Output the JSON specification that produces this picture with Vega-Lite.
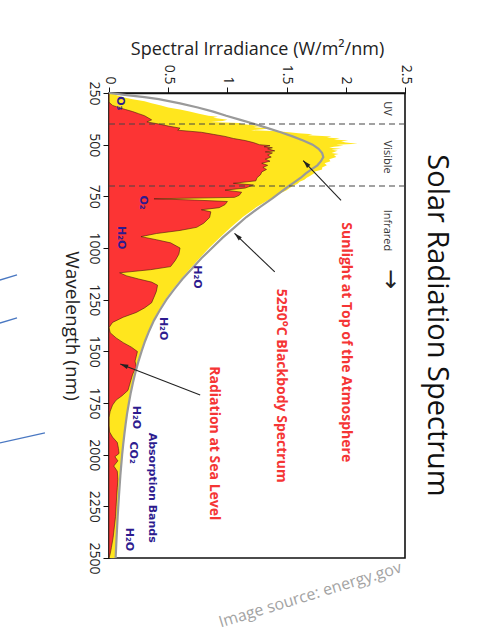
{
  "$schema": "https://vega.github.io/schema/vega-lite/v6.json",
  "width": 296,
  "height": 465,
  "autosize": {"type": "none"},
  "padding": {"left": 109, "top": 93, "right": 90, "bottom": 84},
  "background": "white",
  "config": {"view": {"stroke": "#111", "strokeWidth": 1.6}, "font": "Open Sans"},
  "title": {"text": "Solar Radiation Spectrum", "orient": "right", "anchor": "middle", "fontSize": 29, "font": "Open Sans", "fontWeight": "normal", "color": "#111", "offset": 10},
  "datasets": {
    "toa": [
      {"wl":250,"e":0.02},{"wl":260,"e":0.06},{"wl":270,"e":0.12},{"wl":280,"e":0.2},{"wl":290,"e":0.3},{"wl":300,"e":0.36},{"wl":310,"e":0.44},{"wl":320,"e":0.5},{"wl":330,"e":0.6},{"wl":340,"e":0.68},{"wl":350,"e":0.76},{"wl":360,"e":0.84},{"wl":365,"e":0.92},{"wl":370,"e":0.88},{"wl":380,"e":1.0},{"wl":385,"e":0.96},{"wl":390,"e":0.86},{"wl":395,"e":1.1},{"wl":400,"e":1.12},{"wl":405,"e":1.2},{"wl":410,"e":1.28},{"wl":415,"e":1.22},{"wl":420,"e":1.36},{"wl":425,"e":1.3},{"wl":430,"e":1.2},{"wl":435,"e":1.42},{"wl":440,"e":1.52},{"wl":445,"e":1.6},{"wl":450,"e":1.72},{"wl":455,"e":1.68},{"wl":460,"e":1.88},{"wl":465,"e":1.84},{"wl":470,"e":1.95},{"wl":475,"e":1.9},{"wl":480,"e":2.02},{"wl":485,"e":1.96},{"wl":490,"e":2.0},{"wl":495,"e":2.1},{"wl":500,"e":1.92},{"wl":505,"e":1.98},{"wl":510,"e":1.9},{"wl":515,"e":1.86},{"wl":520,"e":1.96},{"wl":525,"e":1.88},{"wl":530,"e":1.93},{"wl":540,"e":1.88},{"wl":545,"e":1.94},{"wl":550,"e":1.9},{"wl":560,"e":1.92},{"wl":570,"e":1.86},{"wl":580,"e":1.87},{"wl":590,"e":1.82},{"wl":600,"e":1.84},{"wl":610,"e":1.8},{"wl":620,"e":1.8},{"wl":630,"e":1.74},{"wl":640,"e":1.73},{"wl":650,"e":1.7},{"wl":660,"e":1.67},{"wl":670,"e":1.65},{"wl":680,"e":1.61},{"wl":690,"e":1.59},{"wl":700,"e":1.55},{"wl":720,"e":1.5},{"wl":740,"e":1.43},{"wl":760,"e":1.37},{"wl":780,"e":1.31},{"wl":800,"e":1.25},{"wl":850,"e":1.13},{"wl":900,"e":1.03},{"wl":950,"e":0.935},{"wl":1000,"e":0.845},{"wl":1050,"e":0.765},{"wl":1100,"e":0.685},{"wl":1150,"e":0.61},{"wl":1200,"e":0.54},{"wl":1250,"e":0.475},{"wl":1300,"e":0.423},{"wl":1350,"e":0.375},{"wl":1400,"e":0.335},{"wl":1450,"e":0.3},{"wl":1500,"e":0.27},{"wl":1550,"e":0.243},{"wl":1600,"e":0.22},{"wl":1650,"e":0.2},{"wl":1700,"e":0.181},{"wl":1750,"e":0.165},{"wl":1800,"e":0.15},{"wl":1850,"e":0.139},{"wl":1900,"e":0.128},{"wl":1950,"e":0.118},{"wl":2000,"e":0.109},{"wl":2100,"e":0.094},{"wl":2200,"e":0.082},{"wl":2300,"e":0.071},{"wl":2400,"e":0.062},{"wl":2500,"e":0.054}
    ],
    "sea": [
      {"wl":250,"e":0},{"wl":295,"e":0},{"wl":310,"e":0.03},{"wl":320,"e":0.08},{"wl":330,"e":0.14},{"wl":340,"e":0.2},{"wl":350,"e":0.25},{"wl":360,"e":0.3},{"wl":370,"e":0.33},{"wl":380,"e":0.36},{"wl":390,"e":0.32},{"wl":400,"e":0.42},{"wl":410,"e":0.5},{"wl":420,"e":0.6},{"wl":430,"e":0.58},{"wl":440,"e":0.78},{"wl":450,"e":0.88},{"wl":460,"e":0.98},{"wl":470,"e":1.05},{"wl":480,"e":1.15},{"wl":490,"e":1.22},{"wl":500,"e":1.27},{"wl":505,"e":1.36},{"wl":510,"e":1.31},{"wl":515,"e":1.38},{"wl":520,"e":1.34},{"wl":530,"e":1.4},{"wl":535,"e":1.32},{"wl":540,"e":1.38},{"wl":550,"e":1.34},{"wl":560,"e":1.37},{"wl":570,"e":1.32},{"wl":580,"e":1.36},{"wl":590,"e":1.29},{"wl":600,"e":1.34},{"wl":610,"e":1.3},{"wl":620,"e":1.33},{"wl":632,"e":1.29},{"wl":645,"e":1.28},{"wl":660,"e":1.25},{"wl":675,"e":1.24},{"wl":687,"e":1.05},{"wl":695,"e":1.22},{"wl":710,"e":1.15},{"wl":720,"e":0.98},{"wl":730,"e":1.12},{"wl":745,"e":1.1},{"wl":755,"e":1.06},{"wl":762,"e":0.38},{"wl":768,"e":0.72},{"wl":775,"e":1.0},{"wl":790,"e":0.98},{"wl":805,"e":0.93},{"wl":815,"e":0.78},{"wl":825,"e":0.86},{"wl":852,"e":0.85},{"wl":880,"e":0.8},{"wl":900,"e":0.74},{"wl":915,"e":0.6},{"wl":930,"e":0.4},{"wl":945,"e":0.27},{"wl":960,"e":0.4},{"wl":975,"e":0.52},{"wl":1000,"e":0.6},{"wl":1030,"e":0.59},{"wl":1060,"e":0.56},{"wl":1090,"e":0.52},{"wl":1105,"e":0.35},{"wl":1120,"e":0.09},{"wl":1135,"e":0.15},{"wl":1150,"e":0.25},{"wl":1165,"e":0.36},{"wl":1180,"e":0.41},{"wl":1210,"e":0.4},{"wl":1238,"e":0.38},{"wl":1265,"e":0.36},{"wl":1290,"e":0.3},{"wl":1312,"e":0.23},{"wl":1335,"e":0.12},{"wl":1360,"e":0.03},{"wl":1385,"e":0.0},{"wl":1410,"e":0.01},{"wl":1435,"e":0.06},{"wl":1458,"e":0.12},{"wl":1480,"e":0.19},{"wl":1501,"e":0.24},{"wl":1525,"e":0.23},{"wl":1547,"e":0.22},{"wl":1575,"e":0.23},{"wl":1610,"e":0.2},{"wl":1650,"e":0.18},{"wl":1689,"e":0.16},{"wl":1715,"e":0.11},{"wl":1736,"e":0.06},{"wl":1760,"e":0.03},{"wl":1790,"e":0.01},{"wl":1820,"e":0.0},{"wl":1860,"e":0.0},{"wl":1890,"e":0.005},{"wl":1915,"e":0.03},{"wl":1941,"e":0.07},{"wl":1970,"e":0.08},{"wl":1994,"e":0.085},{"wl":2010,"e":0.05},{"wl":2030,"e":0.075},{"wl":2055,"e":0.04},{"wl":2080,"e":0.07},{"wl":2120,"e":0.075},{"wl":2160,"e":0.07},{"wl":2200,"e":0.065},{"wl":2250,"e":0.06},{"wl":2300,"e":0.055},{"wl":2350,"e":0.045},{"wl":2400,"e":0.035},{"wl":2450,"e":0.02},{"wl":2480,"e":0.01},{"wl":2500,"e":0.0}
    ],
    "bb": [
      {"wl":250,"e":0.0},{"wl":260,"e":0.15},{"wl":270,"e":0.3},{"wl":280,"e":0.42},{"wl":300,"e":0.6},{"wl":320,"e":0.75},{"wl":340,"e":0.88},{"wl":360,"e":0.99},{"wl":380,"e":1.11},{"wl":400,"e":1.23},{"wl":420,"e":1.34},{"wl":440,"e":1.45},{"wl":460,"e":1.55},{"wl":480,"e":1.64},{"wl":500,"e":1.72},{"wl":520,"e":1.77},{"wl":540,"e":1.8},{"wl":560,"e":1.81},{"wl":580,"e":1.79},{"wl":600,"e":1.76},{"wl":620,"e":1.71},{"wl":640,"e":1.66},{"wl":660,"e":1.62},{"wl":680,"e":1.57},{"wl":700,"e":1.52},{"wl":730,"e":1.45},{"wl":760,"e":1.38},{"wl":800,"e":1.28},{"wl":850,"e":1.16},{"wl":900,"e":1.06},{"wl":950,"e":0.96},{"wl":1000,"e":0.87},{"wl":1050,"e":0.78},{"wl":1100,"e":0.7},{"wl":1150,"e":0.62},{"wl":1200,"e":0.55},{"wl":1250,"e":0.485},{"wl":1300,"e":0.43},{"wl":1350,"e":0.38},{"wl":1400,"e":0.34},{"wl":1450,"e":0.305},{"wl":1500,"e":0.275},{"wl":1550,"e":0.248},{"wl":1600,"e":0.224},{"wl":1650,"e":0.203},{"wl":1700,"e":0.184},{"wl":1750,"e":0.168},{"wl":1800,"e":0.153},{"wl":1850,"e":0.141},{"wl":1900,"e":0.13},{"wl":1950,"e":0.12},{"wl":2000,"e":0.111},{"wl":2100,"e":0.096},{"wl":2200,"e":0.084},{"wl":2300,"e":0.073},{"wl":2400,"e":0.064},{"wl":2500,"e":0.056}
    ],
    "bounds": [{"wl": 400}, {"wl": 700}],
    "regions": [
      {"t": "UV", "e": 2.35, "wl": 325},
      {"t": "Visible", "e": 2.35, "wl": 560},
      {"t": "Infrared", "e": 2.35, "wl": 915}
    ],
    "pointer": [{"t": "→", "e": 2.37, "wl": 1150}],
    "bands": [
      {"t": "O₃", "e": 0.09, "wl": 300},
      {"t": "O₂", "e": 0.29, "wl": 780},
      {"t": "H₂O", "e": 0.1, "wl": 950},
      {"t": "H₂O", "e": 0.74, "wl": 1140},
      {"t": "H₂O", "e": 0.46, "wl": 1390},
      {"t": "H₂O", "e": 0.23, "wl": 1820},
      {"t": "CO₂", "e": 0.2, "wl": 1990},
      {"t": "Absorption Bands", "e": 0.36, "wl": 2160},
      {"t": "H₂O", "e": 0.17, "wl": 2410}
    ],
    "notes": [
      {"t": "Sunlight at Top of the Atmosphere", "e": 2.0, "wl": 1456},
      {"t": "5250°C Blackbody Spectrum", "e": 1.45, "wl": 1666},
      {"t": "Radiation at Sea Level", "e": 0.89, "wl": 1945}
    ],
    "arrows": [
      {"id": 1, "e1": 1.96, "wl1": 770, "e2": 1.64, "wl2": 577},
      {"id": 2, "e1": 1.4, "wl1": 1116, "e2": 1.06, "wl2": 929},
      {"id": 3, "e1": 0.77, "wl1": 1711, "e2": 0.095, "wl2": 1561}
    ],
    "slide": [
      {"e1": -0.921, "wl1": 1155, "e2": -0.777, "wl2": 1130},
      {"e1": -0.921, "wl1": 1363, "e2": -0.777, "wl2": 1338},
      {"e1": -0.921, "wl1": 1943, "e2": -0.541, "wl2": 1895}
    ],
    "source": [{"t": "Image source: energy.gov", "e": 1.7, "wl": 2679}]
  },
  "layer": [
    {
      "data": {"name": "toa"},
      "mark": {"type": "area", "orient": "horizontal", "color": "#ffe61e"},
      "encoding": {
        "y": {"field": "wl", "type": "quantitative", "title": "Wavelength (nm)",
              "scale": {"domain": [250, 2500], "reverse": true, "nice": false, "zero": false},
              "axis": {"values": [250, 500, 750, 1000, 1250, 1500, 1750, 2000, 2250, 2500], "format": "d", "grid": false,
                       "labelAngle": 90, "labelAlign": "center", "labelBaseline": "top", "labelFontSize": 14, "labelColor": "#222", "labelFont": "Open Sans", "labelPadding": 3,
                       "tickSize": 6, "tickColor": "#111", "domainColor": "#111", "domainWidth": 1.6,
                       "titleAngle": 90, "titleBaseline": "top", "titleFontSize": 19, "titleFontWeight": "normal", "titleColor": "#222", "titleFont": "Open Sans", "titlePadding": 6, "labelOverlap": false}},
        "x": {"field": "e", "type": "quantitative", "stack": null, "title": "Spectral Irradiance (W/m²/nm)",
              "scale": {"domain": [0, 2.5], "nice": false},
              "axis": {"orient": "top", "values": [0, 0.5, 1, 1.5, 2, 2.5], "grid": false, "labelExpr": "format(datum.value, '~g')",
                       "labelAngle": 90, "labelAlign": "right", "labelBaseline": "middle", "labelFontSize": 14, "labelColor": "#222", "labelFont": "Open Sans", "labelPadding": 3,
                       "tickSize": 6, "tickColor": "#111", "domainColor": "#111", "domainWidth": 1.6,
                       "titleFontSize": 18, "titleFontWeight": "normal", "titleColor": "#222", "titleFont": "Open Sans", "titlePadding": 6, "labelOverlap": false}}
      }
    },
    {
      "data": {"name": "sea"},
      "mark": {"type": "area", "orient": "horizontal", "color": "#fc3434", "stroke": "#4a1a10", "strokeWidth": 0.6},
      "encoding": {
        "y": {"field": "wl", "type": "quantitative", "title": "Wavelength (nm)"},
        "x": {"field": "e", "type": "quantitative", "stack": null, "title": "Spectral Irradiance (W/m²/nm)"}
      }
    },
    {
      "data": {"name": "bb"},
      "mark": {"type": "line", "color": "#9a9a9a", "strokeWidth": 2.2},
      "encoding": {
        "y": {"field": "wl", "type": "quantitative", "title": "Wavelength (nm)"},
        "x": {"field": "e", "type": "quantitative", "title": "Spectral Irradiance (W/m²/nm)"},
        "order": {"field": "wl", "type": "quantitative"}
      }
    },
    {
      "data": {"name": "bounds"},
      "mark": {"type": "rule", "color": "#444", "strokeWidth": 1.2, "strokeDash": [6, 4]},
      "encoding": {
        "y": {"field": "wl", "type": "quantitative", "title": "Wavelength (nm)"}
      }
    },
    {
      "data": {"name": "regions"},
      "mark": {"type": "text", "angle": 90, "align": "center", "baseline": "middle", "fontSize": 11, "color": "#333", "font": "Open Sans"},
      "encoding": {
        "y": {"field": "wl", "type": "quantitative", "title": "Wavelength (nm)"},
        "x": {"field": "e", "type": "quantitative", "title": "Spectral Irradiance (W/m²/nm)"},
        "text": {"field": "t"}
      }
    },
    {
      "data": {"name": "pointer"},
      "mark": {"type": "text", "angle": 90, "align": "center", "baseline": "middle", "fontSize": 24, "color": "#222", "font": "DejaVu Sans"},
      "encoding": {
        "y": {"field": "wl", "type": "quantitative", "title": "Wavelength (nm)"},
        "x": {"field": "e", "type": "quantitative", "title": "Spectral Irradiance (W/m²/nm)"},
        "text": {"field": "t"}
      }
    },
    {
      "data": {"name": "bands"},
      "mark": {"type": "text", "angle": 90, "align": "center", "baseline": "middle", "fontSize": 11, "fontWeight": "bold", "color": "#2d1b8f", "font": "DejaVu Sans"},
      "encoding": {
        "y": {"field": "wl", "type": "quantitative", "title": "Wavelength (nm)"},
        "x": {"field": "e", "type": "quantitative", "title": "Spectral Irradiance (W/m²/nm)"},
        "text": {"field": "t"}
      }
    },
    {
      "data": {"name": "notes"},
      "mark": {"type": "text", "angle": 90, "align": "center", "baseline": "middle", "fontSize": 14, "fontWeight": "bold", "color": "#f53535", "font": "Open Sans"},
      "encoding": {
        "y": {"field": "wl", "type": "quantitative", "title": "Wavelength (nm)"},
        "x": {"field": "e", "type": "quantitative", "title": "Spectral Irradiance (W/m²/nm)"},
        "text": {"field": "t"}
      }
    },
    {
      "data": {"name": "arrows"},
      "mark": {"type": "rule", "color": "#222", "strokeWidth": 1.1},
      "encoding": {
        "x": {"field": "e1", "type": "quantitative", "title": "Spectral Irradiance (W/m²/nm)"},
        "x2": {"field": "e2"},
        "y": {"field": "wl1", "type": "quantitative", "title": "Wavelength (nm)"},
        "y2": {"field": "wl2"}
      }
    },
    {
      "data": {"name": "arrows"},
      "transform": [{"filter": "datum.id == 1"}],
      "mark": {"type": "point", "shape": "M0,0L-0.45,1.6L0.45,1.6Z", "filled": true, "color": "#222", "opacity": 1, "size": 100, "angle": 316.5},
      "encoding": {
        "x": {"field": "e2", "type": "quantitative", "title": "Spectral Irradiance (W/m²/nm)"},
        "y": {"field": "wl2", "type": "quantitative", "title": "Wavelength (nm)"}
      }
    },
    {
      "data": {"name": "arrows"},
      "transform": [{"filter": "datum.id == 2"}],
      "mark": {"type": "point", "shape": "M0,0L-0.45,1.6L0.45,1.6Z", "filled": true, "color": "#222", "opacity": 1, "size": 100, "angle": 313.8},
      "encoding": {
        "x": {"field": "e2", "type": "quantitative", "title": "Spectral Irradiance (W/m²/nm)"},
        "y": {"field": "wl2", "type": "quantitative", "title": "Wavelength (nm)"}
      }
    },
    {
      "data": {"name": "arrows"},
      "transform": [{"filter": "datum.id == 3"}],
      "mark": {"type": "point", "shape": "M0,0L-0.45,1.6L0.45,1.6Z", "filled": true, "color": "#222", "opacity": 1, "size": 100, "angle": 291.2},
      "encoding": {
        "x": {"field": "e2", "type": "quantitative", "title": "Spectral Irradiance (W/m²/nm)"},
        "y": {"field": "wl2", "type": "quantitative", "title": "Wavelength (nm)"}
      }
    },
    {
      "data": {"name": "slide"},
      "mark": {"type": "rule", "color": "#4a78c2", "strokeWidth": 1.3},
      "encoding": {
        "x": {"field": "e1", "type": "quantitative", "title": "Spectral Irradiance (W/m²/nm)"},
        "x2": {"field": "e2"},
        "y": {"field": "wl1", "type": "quantitative", "title": "Wavelength (nm)"},
        "y2": {"field": "wl2"}
      }
    },
    {
      "data": {"name": "source"},
      "mark": {"type": "text", "angle": 343, "align": "center", "baseline": "middle", "fontSize": 16, "color": "#a3a3a3", "font": "Open Sans"},
      "encoding": {
        "y": {"field": "wl", "type": "quantitative", "title": "Wavelength (nm)"},
        "x": {"field": "e", "type": "quantitative", "title": "Spectral Irradiance (W/m²/nm)"},
        "text": {"field": "t"}
      }
    }
  ]
}
